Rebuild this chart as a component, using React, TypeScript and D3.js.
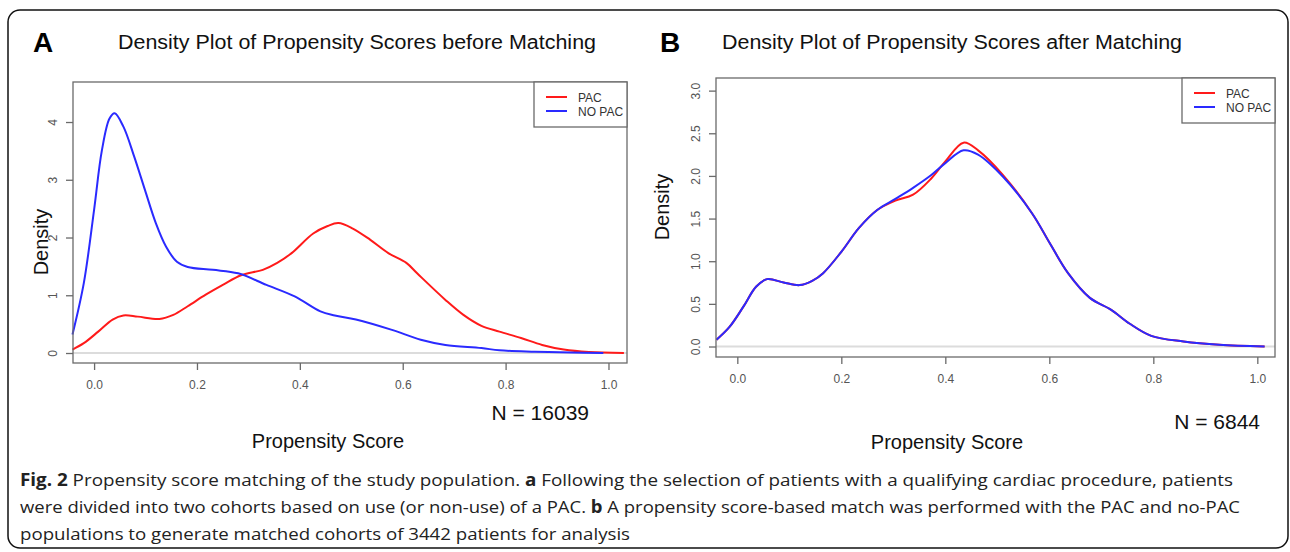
import * as d3 from 'd3';
import { useEffect, useRef } from 'react';

// density curves: [propensity score, density]
const pacBefore: [number, number][] = [
  [-0.042, 0.06], [-0.02, 0.17], [0.008, 0.37], [0.036, 0.58], [0.057, 0.65],
  [0.085, 0.63], [0.127, 0.59], [0.154, 0.66], [0.182, 0.81], [0.217, 1.01],
  [0.252, 1.19], [0.287, 1.35], [0.328, 1.44], [0.356, 1.56], [0.384, 1.73],
  [0.426, 2.07], [0.454, 2.2], [0.475, 2.25], [0.502, 2.16], [0.537, 1.96],
  [0.572, 1.73], [0.607, 1.56], [0.628, 1.38], [0.683, 0.92], [0.718, 0.66],
  [0.753, 0.47], [0.788, 0.37], [0.83, 0.26], [0.871, 0.14], [0.913, 0.06],
  [0.962, 0.017], [1.03, 0.0],
];
const noPacBefore: [number, number][] = [
  [-0.042, 0.32], [-0.02, 1.21], [0.0, 2.48], [0.015, 3.5], [0.03, 4.06],
  [0.04, 4.15], [0.057, 3.92], [0.078, 3.4], [0.099, 2.82], [0.12, 2.25],
  [0.14, 1.84], [0.161, 1.58], [0.182, 1.49], [0.231, 1.44], [0.28, 1.38],
  [0.335, 1.18], [0.39, 0.98], [0.44, 0.72], [0.468, 0.65], [0.509, 0.58],
  [0.579, 0.4], [0.635, 0.23], [0.683, 0.14], [0.753, 0.086], [0.788, 0.046],
  [0.857, 0.023], [0.927, 0.01], [0.99, 0.0],
];
const pacAfter: [number, number][] = [
  [-0.04, 0.08], [-0.015, 0.23], [0.012, 0.47], [0.036, 0.7], [0.057, 0.79],
  [0.089, 0.75], [0.12, 0.72], [0.144, 0.77], [0.165, 0.86], [0.2, 1.11],
  [0.234, 1.39], [0.269, 1.6], [0.304, 1.71], [0.338, 1.78], [0.373, 1.97],
  [0.4, 2.17], [0.435, 2.39], [0.463, 2.3], [0.511, 2.01], [0.567, 1.56],
  [0.601, 1.21], [0.636, 0.86], [0.678, 0.57], [0.719, 0.43], [0.754, 0.27],
  [0.796, 0.125], [0.858, 0.059], [0.927, 0.02], [1.014, 0.0],
];
const noPacAfter: [number, number][] = [
  [-0.04, 0.08], [-0.015, 0.23], [0.012, 0.47], [0.036, 0.7], [0.057, 0.79],
  [0.089, 0.75], [0.12, 0.72], [0.144, 0.77], [0.165, 0.86], [0.2, 1.11],
  [0.234, 1.39], [0.269, 1.6], [0.304, 1.73], [0.338, 1.86], [0.373, 2.01],
  [0.4, 2.15], [0.435, 2.3], [0.463, 2.25], [0.511, 1.99], [0.567, 1.56],
  [0.601, 1.21], [0.636, 0.86], [0.678, 0.57], [0.719, 0.43], [0.754, 0.27],
  [0.796, 0.125], [0.858, 0.059], [0.927, 0.02], [1.014, 0.0],
];

const xTicks = [0, 0.2, 0.4, 0.6, 0.8, 1.0];
const yTicksBefore = [0, 1, 2, 3, 4];
const yTicksAfter = [0, 0.5, 1.0, 1.5, 2.0, 2.5, 3.0];
const legendLabels = ['PAC', 'NO PAC'];

const captionLines = [
  [['Fig. 2', true], [' Propensity score matching of the study population. ', false], ['a', true],
    [' Following the selection of patients with a qualifying cardiac procedure, patients', false]],
  [['were divided into two cohorts based on use (or non-use) of a PAC. ', false], ['b', true],
    [' A propensity score-based match was performed with the PAC and no-PAC', false]],
  [['populations to generate matched cohorts of 3442 patients for analysis', false]],
];

const RED = '#ff1a1a';
const BLUE = '#2a2aff';
const AXIS = '#6a6a6a';
const FONT = '"Liberation Sans", Arial, sans-serif';

const panels = [
  {
    letter: 'A', letterX: 33,
    title: 'Density Plot of Propensity Scores before Matching', titleX: 118, titleW: 478,
    box: { left: 73, top: 82, right: 627, bottom: 363 },
    xDomain: [-0.041, 1.036], yDomain: [-0.173, 4.693],
    yTicks: yTicksBefore, yFmt: d3.format('d'),
    pac: pacBefore, noPac: noPacBefore,
    legend: { x: 534, w: 93, h: 45 },
    n: 'N = 16039', nRight: 589, nY: 420,
    xLabelX: 328, xLabelY: 448, densityX: 48, densityY: 242,
  },
  {
    letter: 'B', letterX: 660,
    title: 'Density Plot of Propensity Scores after Matching', titleX: 722, titleW: 460,
    box: { left: 716, top: 78, right: 1275, bottom: 357 },
    xDomain: [-0.041, 1.034], yDomain: [-0.123, 3.148],
    yTicks: yTicksAfter, yFmt: d3.format('.1f'),
    pac: pacAfter, noPac: noPacAfter,
    legend: { x: 1182, w: 93, h: 45 },
    n: 'N = 6844', nRight: 1260, nY: 429,
    xLabelX: 947, xLabelY: 449, densityX: 669, densityY: 207,
  },
];

const App = () => {
  const ref = useRef(null);

  useEffect(() => {
    const svg = d3.select(ref.current);
    svg.selectAll('*').remove();

    svg.append('rect')
      .attr('x', 8).attr('y', 10).attr('width', 1280).attr('height', 538)
      .attr('rx', 12).attr('fill', 'none').attr('stroke', '#111').attr('stroke-width', 1.5);

    panels.forEach((p) => {
      const { box } = p;
      const x = d3.scaleLinear().domain(p.xDomain).range([box.left, box.right]);
      const y = d3.scaleLinear().domain(p.yDomain).range([box.bottom, box.top]);
      const g = svg.append('g');

      g.append('text').attr('x', p.letterX).attr('y', 52)
        .attr('font-family', FONT).attr('font-weight', 'bold').attr('font-size', 28)
        .text(p.letter);
      g.append('text').attr('x', p.titleX).attr('y', 49)
        .attr('font-family', FONT).attr('font-size', 20).attr('fill', '#111')
        .attr('textLength', p.titleW).attr('lengthAdjust', 'spacingAndGlyphs')
        .text(p.title);

      // zero line
      g.append('line')
        .attr('x1', box.left).attr('x2', box.right)
        .attr('y1', y(0)).attr('y2', y(0))
        .attr('stroke', '#dcdcdc').attr('stroke-width', 2);

      const line = d3.line()
        .x((d) => x(d[0]))
        .y((d) => y(d[1]))
        .curve(d3.curveCatmullRom.alpha(0.5));

      g.append('path').datum(p.pac).attr('d', line)
        .attr('fill', 'none').attr('stroke', RED).attr('stroke-width', 2);
      g.append('path').datum(p.noPac).attr('d', line)
        .attr('fill', 'none').attr('stroke', BLUE).attr('stroke-width', 2);

      g.append('rect')
        .attr('x', box.left).attr('y', box.top)
        .attr('width', box.right - box.left).attr('height', box.bottom - box.top)
        .attr('fill', 'none').attr('stroke', AXIS).attr('stroke-width', 1.3);

      const xAxis = d3.axisBottom(x).tickValues(xTicks).tickFormat(d3.format('.1f')).tickSize(7);
      const xg = g.append('g').attr('transform', `translate(0, ${box.bottom})`).call(xAxis);
      xg.select('.domain').remove();
      xg.selectAll('line').attr('stroke', AXIS).attr('stroke-width', 1.3);
      xg.selectAll('text')
        .attr('y', 17).attr('fill', '#555').attr('font-size', 12).attr('font-family', FONT);

      const yAxis = d3.axisLeft(y).tickValues(p.yTicks).tickFormat(p.yFmt).tickSize(7);
      const yg = g.append('g').attr('transform', `translate(${box.left}, 0)`).call(yAxis);
      yg.select('.domain').remove();
      yg.selectAll('line').attr('stroke', AXIS).attr('stroke-width', 1.3);
      yg.selectAll('text')
        .attr('transform', 'rotate(-90)')
        .attr('text-anchor', 'middle')
        .attr('x', 0).attr('y', -16).attr('dy', 0)
        .attr('fill', '#555').attr('font-size', 12).attr('font-family', FONT);

      // legend
      const lg = g.append('g');
      lg.append('rect')
        .attr('x', p.legend.x).attr('y', box.top)
        .attr('width', p.legend.w).attr('height', p.legend.h)
        .attr('fill', '#fff').attr('stroke', AXIS).attr('stroke-width', 1.3);
      legendLabels.forEach((lab, i) => {
        const ly = box.top + 15 + i * 14;
        lg.append('line')
          .attr('x1', p.legend.x + 12).attr('x2', p.legend.x + 33)
          .attr('y1', ly).attr('y2', ly)
          .attr('stroke', i === 0 ? RED : BLUE).attr('stroke-width', 2);
        lg.append('text')
          .attr('x', p.legend.x + 44).attr('y', ly + 4.5)
          .attr('font-family', FONT).attr('font-size', 12).attr('fill', '#333')
          .text(lab);
      });

      g.append('text')
        .attr('x', p.nRight).attr('y', p.nY).attr('text-anchor', 'end')
        .attr('font-family', FONT).attr('font-size', 21).attr('fill', '#111')
        .text(p.n);
      g.append('text')
        .attr('x', p.xLabelX).attr('y', p.xLabelY).attr('text-anchor', 'middle')
        .attr('font-family', FONT).attr('font-size', 20).attr('fill', '#111')
        .text('Propensity Score');
      g.append('text')
        .attr('transform', `translate(${p.densityX}, ${p.densityY}) rotate(-90)`)
        .attr('text-anchor', 'middle')
        .attr('font-family', FONT).attr('font-size', 20).attr('fill', '#111')
        .text('Density');
    });

    // caption
    const widths = [1213, 1220, 610];
    captionLines.forEach((parts, i) => {
      const t = svg.append('text')
        .attr('x', 20).attr('y', 486 + i * 27)
        .attr('font-family', '"Liberation Sans Narrow", "Open Sans", sans-serif')
        .attr('font-size', 17).attr('fill', '#222')
        .attr('textLength', widths[i]).attr('lengthAdjust', 'spacingAndGlyphs');
      parts.forEach(([s, bold]) => {
        t.append('tspan').attr('font-weight', bold ? 'bold' : 'normal').text(s);
      });
    });
  }, []);

  return <svg ref={ref} width={1290} height={552} style={{ position: 'absolute', left: 0, top: 0 }} />;
};

export default App;
